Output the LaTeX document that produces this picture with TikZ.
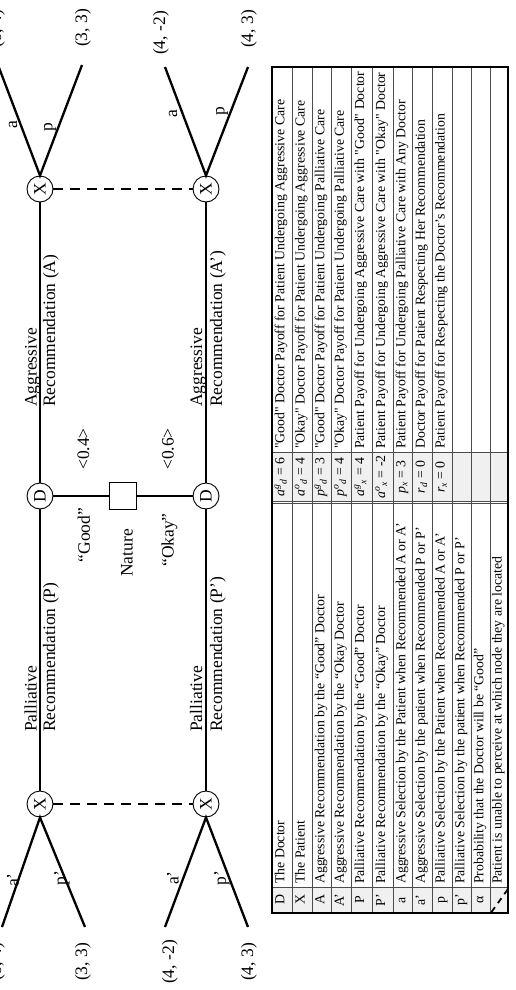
\documentclass[tikz,border=0pt]{standalone}
\usepackage{fontspec}
\setmainfont{Liberation Serif}[Ligatures=TeXOff]
\newcommand{\treefont}{\fontsize{17.5}{20}\selectfont}
\newcommand{\mytabfont}{\fontsize{13.8}{16}\selectfont}
\definecolor{cellgray}{gray}{0.94}
\definecolor{gridgray}{gray}{0.3}
\begin{document}
\begin{tikzpicture}[x=1pt,y=-1pt,
  tline/.style={line width=2.3pt},
  dline/.style={line width=2.3pt, dash pattern=on 10pt off 7pt},
  pnode/.style={circle, draw, line width=0.9pt, minimum size=26pt, inner sep=0pt, fill=white, font=\treefont},
  natbox/.style={rectangle, draw, line width=0.9pt, minimum size=27pt, inner sep=0pt, fill=white},
  tlabel/.style={rotate=90, font=\treefont, inner sep=0pt},
  cell/.style={rotate=90, font=\mytabfont, inner sep=0pt, text height=0.68em, text depth=0.2em},
  gridline/.style={line width=0.8pt, draw=gridgray}
]
\useasboundingbox (0,0) rectangle (516,990);
\clip (0,0) rectangle (516,990);

% ---------------- game tree ----------------
\node[pnode] (X1) at (40,189) {\rotatebox{90}{X}};
\node[pnode] (X2) at (206,189) {\rotatebox{90}{X}};
\node[pnode] (D1) at (40,496) {\rotatebox{90}{D}};
\node[pnode] (D2) at (206,496) {\rotatebox{90}{D}};
\node[pnode] (X3) at (40,804) {\rotatebox{90}{X}};
\node[pnode] (X4) at (206,804) {\rotatebox{90}{X}};
\node[natbox] (N) at (123,496) {};

\draw[tline] (X1) -- (D1);
\draw[tline] (D1) -- (X3);
\draw[tline] (X2) -- (D2);
\draw[tline] (D2) -- (X4);
\draw[tline] (D1) -- (N);
\draw[tline] (N) -- (D2);
\draw[dline] (X1) -- (X2);
\draw[dline] (X3) -- (X4);

\coordinate (e1) at (-2,65);
\coordinate (e2) at (82,65);
\coordinate (e3) at (165,67);
\coordinate (e4) at (248,67);
\coordinate (f1) at (2,927);
\coordinate (f2) at (85,927);
\coordinate (f3) at (165,927);
\coordinate (f4) at (248,927);
\draw[tline] (e1) -- (X1.north) -- (e2);
\draw[tline] (e3) -- (X2.north) -- (e4);
\draw[tline] (f1) -- (X3.south) -- (f2);
\draw[tline] (f3) -- (X4.south) -- (f4);

% branch labels
\node[tlabel] (la1) at (13,125) {a};
\node[tlabel] (lp1) at (50,127) {p};
\node[tlabel] (la2) at (173,114) {a};
\node[tlabel] (lp2) at (222,111) {p};
\node[tlabel] (lb1) at (13,880) {a’};
\node[tlabel] (lq1) at (62,878) {p’};
\node[tlabel] (lb2) at (173,878) {a’};
\node[tlabel] (lq2) at (222,878) {p’};

% payoffs
\node[tlabel] (t1) at (-3,29) {(6, 4)};
\node[tlabel] (t2) at (83,28) {(3, 3)};
\node[tlabel] (t3) at (161,33) {(4, -2)};
\node[tlabel] (t4) at (249,29) {(4, 3)};
\node[tlabel] (b1) at (-3,962) {(6, 4)};
\node[tlabel] (b2) at (83,962) {(3, 3)};
\node[tlabel] (b3) at (170,962) {(4, -2)};
\node[tlabel] (b4) at (249,962) {(4, 3)};

% action labels
\node[tlabel, anchor=base west] (ag1) at (36.5,407) {Aggressive};
\node[tlabel, anchor=base west] (ra1) at (55,407) {Recommendation (A)};
\node[tlabel, anchor=base west] (ag2) at (202,407) {Aggressive};
\node[tlabel, anchor=base west] (ra2) at (222,407) {Recommendation (A’)};
\node[tlabel, anchor=base west] (pa1) at (36.5,732) {Palliative};
\node[tlabel, anchor=base west] (rp1) at (55,732) {Recommendation (P)};
\node[tlabel, anchor=base west] (pa2) at (202,732) {Palliative};
\node[tlabel, anchor=base west] (rp2) at (222,732) {Recommendation (P’)};

% nature labels
\node[tlabel] (good) at (84,535) {“Good”};
\node[tlabel] (p04) at (83.5,449) {<0.4>};
\node[tlabel] (nat) at (127,553) {Nature};
\node[tlabel] (okay) at (169.5,540) {“Okay”};
\node[tlabel] (p06) at (168,449) {<0.6>};

% ---------------- table ----------------
\fill[cellgray] (271.7,887) rectangle (508.3,913);
\fill[cellgray] (271.7,452) rectangle (508.3,502);
\foreach \xx in {292.3,312.3,331.7,351.3,372.3,393,412.7,432.3,452,471.7,490}
  \draw[gridline] (\xx,67) -- (\xx,913);
\draw[gridline] (271.7,887) -- (508.3,887);
\draw[gridline] (271.7,452) -- (508.3,452);
\draw[gridline] (271.7,501.3) -- (508.3,501.3);
\draw[gridline] (271.7,503.6) -- (508.3,503.6);
\draw[line width=1.8pt] (271.7,67) rectangle (508.3,913);

% column 1: symbols
\node[cell] (s1) at (282,900) {D};
\node[cell] (s2) at (302.3,900) {X};
\node[cell] (s3) at (322,900) {A};
\node[cell] (s4) at (341.5,900) {A’};
\node[cell] (s5) at (361.8,900) {P};
\node[cell] (s6) at (382.6,900) {P’};
\node[cell] (s7) at (402.9,900) {a};
\node[cell] (s8) at (422.5,900) {a’};
\node[cell] (s9) at (442.2,900) {p};
\node[cell] (s10) at (461.9,900) {p’};
\node[cell] (s11) at (480.9,900) {α};
\draw[line width=1.8pt, dash pattern=on 6pt off 5pt] (491.5,912) -- (508,889);

% column 2: descriptions
\node[cell, anchor=west] (d1) at (282,884) {The Doctor};
\node[cell, anchor=west] (d2) at (302.3,884) {The Patient};
\node[cell, anchor=west] (d3) at (322,884) {Aggressive Recommendation by the “Good” Doctor};
\node[cell, anchor=west] (d4) at (341.5,884) {Aggressive Recommendation by the “Okay Doctor};
\node[cell, anchor=west] (d5) at (361.8,884) {Palliative Recommendation by the “Good” Doctor};
\node[cell, anchor=west] (d6) at (382.6,884) {Palliative Recommendation by the “Okay” Doctor};
\node[cell, anchor=west] (d7) at (402.9,884) {Aggressive Selection by the Patient when Recommended A or A’};
\node[cell, anchor=west] (d8) at (422.5,884) {Aggressive Selection by the patient when Recommended P or P’};
\node[cell, anchor=west] (d9) at (442.2,884) {Palliative Selection by the Patient when Recommended A or A’};
\node[cell, anchor=west] (d10) at (461.9,884) {Palliative Selection by the patient when Recommended P or P’};
\node[cell, anchor=west] (d11) at (480.9,884) {Probability that the Doctor will be “Good”};
\node[cell, anchor=west] (d12) at (499.2,884) {Patient is unable to perceive at which node they are located};

% column 3: values
\node[cell] (v1) at (282,477) {\itshape a\textsuperscript{g}\textsubscript{d}\upshape\ = 6};
\node[cell] (v2) at (302.3,477) {\itshape a\textsuperscript{o}\textsubscript{d}\upshape\ = 4};
\node[cell] (v3) at (322,477) {\itshape p\textsuperscript{g}\textsubscript{d}\upshape\ = 3};
\node[cell] (v4) at (341.5,477) {\itshape p\textsuperscript{o}\textsubscript{d}\upshape\ = 4};
\node[cell] (v5) at (361.8,477) {\itshape a\textsuperscript{g}\textsubscript{x}\upshape\ = 4};
\node[cell] (v6) at (382.6,477) {\itshape a\textsuperscript{o}\textsubscript{x}\upshape\ = -2};
\node[cell] (v7) at (402.9,477) {\itshape p\textsubscript{x}\upshape\ = 3};
\node[cell] (v8) at (422.5,477) {\itshape r\textsubscript{d}\upshape\ = 0};
\node[cell] (v9) at (442.2,477) {\itshape r\textsubscript{x}\upshape\ = 0};

% column 4: payoff descriptions
\node[cell, anchor=west] (w1) at (282,449) {"Good" Doctor Payoff for Patient Undergoing Aggressive Care};
\node[cell, anchor=west] (w2) at (302.3,449) {"Okay" Doctor Payoff for Patient Undergoing Aggressive Care};
\node[cell, anchor=west] (w3) at (322,449) {"Good" Doctor Payoff for Patient Undergoing Palliative Care};
\node[cell, anchor=west] (w4) at (341.5,449) {"Okay" Doctor Payoff for Patient Undergoing Palliative Care};
\node[cell, anchor=west] (w5) at (361.8,449) {Patient Payoff for Undergoing Aggressive Care with "Good" Doctor};
\node[cell, anchor=west] (w6) at (382.6,449) {Patient Payoff for Undergoing Aggressive Care with "Okay" Doctor};
\node[cell, anchor=west] (w7) at (402.9,449) {Patient Payoff for Undergoing Palliative Care with Any Doctor};
\node[cell, anchor=west] (w8) at (422.5,449) {Doctor Payoff for Patient Respecting Her Recommendation};
\node[cell, anchor=west] (w9) at (442.2,449) {Patient Payoff for Respecting the Doctor’s Recommendation};
\end{tikzpicture}
\end{document}
